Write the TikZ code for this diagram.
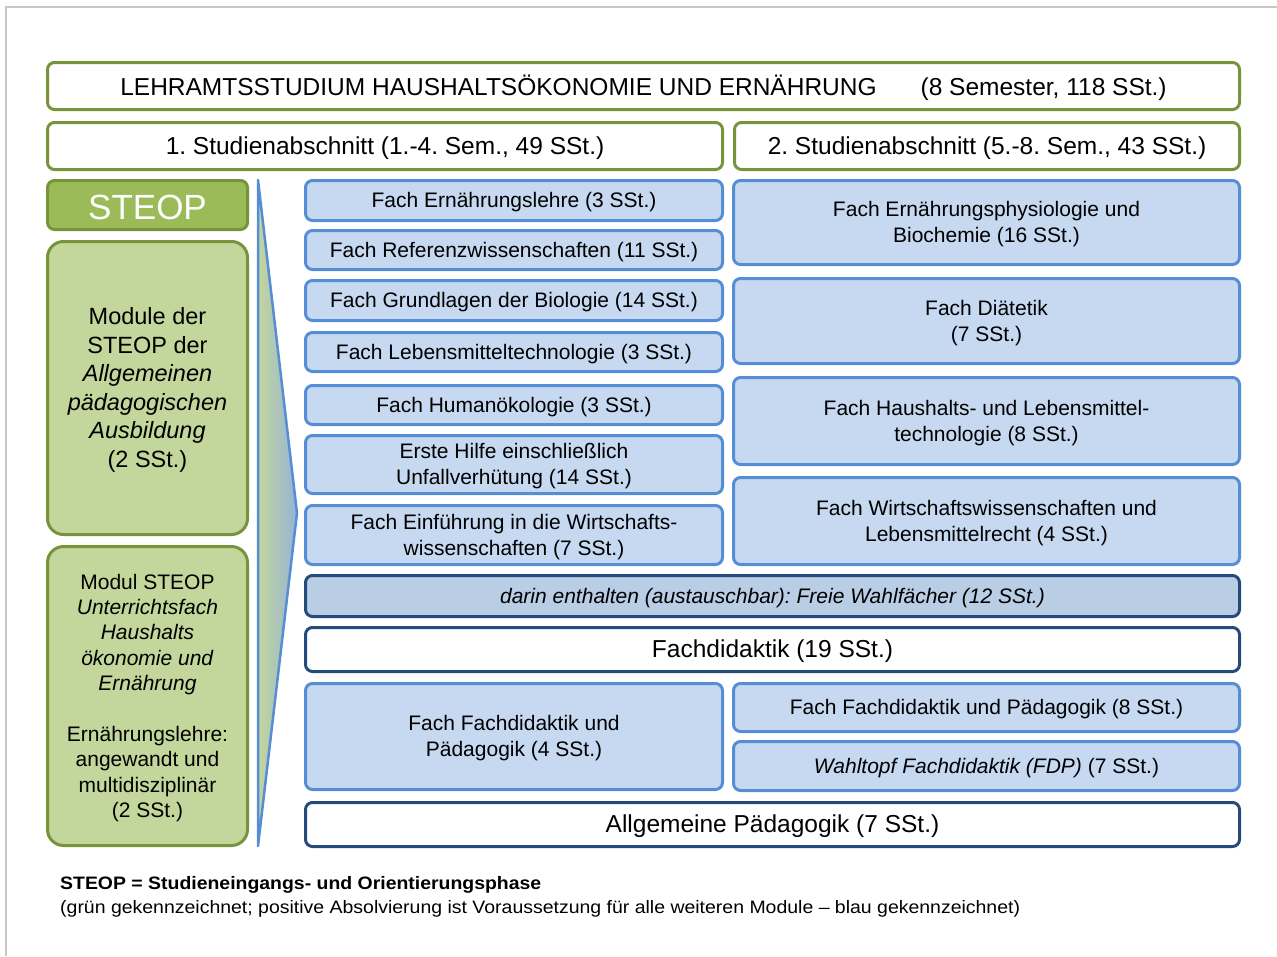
\documentclass[tikz,border=0pt]{standalone}
\usepackage{fontspec}
\setmainfont{Liberation Sans}
\usepackage{graphicx}
\frenchspacing
\definecolor{grnB}{HTML}{77933C}
\definecolor{grnS}{HTML}{9BBB59}
\definecolor{grnL}{HTML}{C3D69B}
\definecolor{bluB}{HTML}{558ED5}
\definecolor{bluL}{HTML}{C6D9F1}
\definecolor{bluM}{HTML}{B9CDE5}
\definecolor{bluA}{HTML}{95B3D7}
\definecolor{navB}{HTML}{254B7C}
\definecolor{frameG}{HTML}{C8C8C8}
\tikzset{
  box/.style={draw, rounded corners=7pt, line width=3pt, inner sep=0pt, align=center, text=black},
  greenframe/.style={box, draw=grnB, fill=white, font=\fontsize{24.5}{29}\selectfont},
  steopbox/.style={box, draw=grnB, fill=grnS, text=white, font=\fontsize{35}{40}\selectfont},
  greenbox/.style={box, draw=grnB, fill=grnL, rounded corners=16pt},
  bluebox/.style={box, draw=bluB, fill=bluL, font=\fontsize{21}{26}\selectfont},
  navybox/.style={box, draw=navB, fill=white, font=\fontsize{24.5}{29}\selectfont},
  darinbox/.style={box, draw=navB, fill=bluM, font=\fontsize{21}{26}\selectfont\itshape},
  foot/.style={anchor=west, inner sep=0pt, text=black},
}
% box node (#6) and its text node (#6-t), text lowered slightly
\newcommand\bx[7]{%
  \node[#1, minimum width={#4-#2-3}, minimum height={#5-#3-3}] (#6) at ({(#2+#4)/2},{(#3+#5)/2}) {};
  \node[#1, draw=none, fill=none, minimum width=0pt, minimum height=0pt] (#6-t) at ([yshift=-2pt]#6.center) {#7};}
\begin{document}
\begin{tikzpicture}[x=1pt,y=-1pt]
\useasboundingbox (0,0) rectangle (1277,956);
\draw[frameG, line width=2pt] (6,956) -- (6,7) -- (1277,7);
% header
\bx{greenframe}{46}{61}{1241}{111}{title}{LEHRAMTSSTUDIUM HAUSHALTSÖKONOMIE UND ERNÄHRUNG\hspace{44pt}(8 Semester, 118 SSt.)}
\bx{greenframe}{46}{121}{724}{171}{sa1}{1. Studienabschnitt (1.-4. Sem., 49 SSt.)}
\bx{greenframe}{733}{121}{1241}{171}{sa2}{2. Studienabschnitt (5.-8. Sem., 43 SSt.)}
% STEOP column
\bx{steopbox}{46}{179}{249}{231}{steop}{STEOP}
\bx{greenbox, font=\fontsize{23.5}{28.6}\selectfont}{46}{240}{249}{536}{gA}{Module der\\STEOP der\\\textit{Allgemeinen}\\\textit{pädagogischen}\\\textit{Ausbildung}\\(2 SSt.)}
\bx{greenbox, font=\fontsize{21}{25.4}\selectfont}{46}{545}{249}{847}{gB}{Modul STEOP\\\textit{Unterrichtsfach}\\\textit{Haushalts}\\\textit{ökonomie und}\\\textit{Ernährung}\\[25.4pt]Ernährungslehre:\\angewandt und\\multidisziplinär\\(2 SSt.)}
% arrow
\coordinate (arT) at (258,180);
\coordinate (arM) at (297,513);
\coordinate (arB) at (258,846);
\path[draw=bluB, line width=2.5pt, line join=round, left color=grnL, right color=bluA] (arT) -- (arM) -- (arB) -- cycle;
% left blue column
\bx{bluebox}{304}{179}{724}{222}{l1}{Fach Ernährungslehre (3 SSt.)}
\bx{bluebox}{304}{229}{724}{271}{l2}{Fach Referenzwissenschaften (11 SSt.)}
\bx{bluebox}{304}{279}{724}{322}{l3}{Fach Grundlagen der Biologie (14 SSt.)}
\bx{bluebox}{304}{331}{724}{373}{l4}{Fach Lebensmitteltechnologie (3 SSt.)}
\bx{bluebox}{304}{384}{724}{426}{l5}{Fach Humanökologie (3 SSt.)}
\bx{bluebox}{304}{434}{724}{495}{l6}{Erste Hilfe einschließlich\\Unfallverhütung (14 SSt.)}
\bx{bluebox}{304}{504}{724}{566}{l7}{Fach Einführung in die Wirtschafts-\\wissenschaften (7 SSt.)}
% right blue column
\bx{bluebox}{732}{179}{1241}{266}{r1}{Fach Ernährungsphysiologie und\\Biochemie (16 SSt.)}
\bx{bluebox}{732}{277}{1241}{365}{r2}{Fach Diätetik\\(7 SSt.)}
\bx{bluebox}{732}{376}{1241}{466}{r3}{Fach Haushalts- und Lebensmittel-\\technologie (8 SSt.)}
\bx{bluebox}{732}{476}{1241}{566}{r4}{Fach Wirtschaftswissenschaften und\\Lebensmittelrecht (4 SSt.)}
% lower part
\bx{darinbox}{304}{574}{1241}{618}{darin}{darin enthalten (austauschbar): Freie Wahlfächer (12 SSt.)}
\bx{navybox}{304}{626}{1241}{673}{fd}{Fachdidaktik (19 SSt.)}
\bx{bluebox}{304}{682}{724}{791}{fd4}{Fach Fachdidaktik und\\Pädagogik (4 SSt.)}
\bx{bluebox}{732}{682}{1241}{733}{fd8}{Fach Fachdidaktik und Pädagogik (8 SSt.)}
\bx{bluebox}{732}{740}{1241}{792}{wt}{\textit{Wahltopf Fachdidaktik (FDP)} (7 SSt.)}
\bx{navybox}{304}{801}{1241}{848}{ap}{Allgemeine Pädagogik (7 SSt.)}
% footer
\node[foot] (f1) at (60,885) {\resizebox{481pt}{\height}{\fontsize{18}{22}\selectfont\bfseries STEOP = Studieneingangs- und Orientierungsphase}};
\node[foot] (f2) at (60,909) {\resizebox{960pt}{\height}{\fontsize{18}{22}\selectfont (grün gekennzeichnet; positive Absolvierung ist Voraussetzung für alle weiteren Module – blau gekennzeichnet)}};
\end{tikzpicture}
\end{document}
